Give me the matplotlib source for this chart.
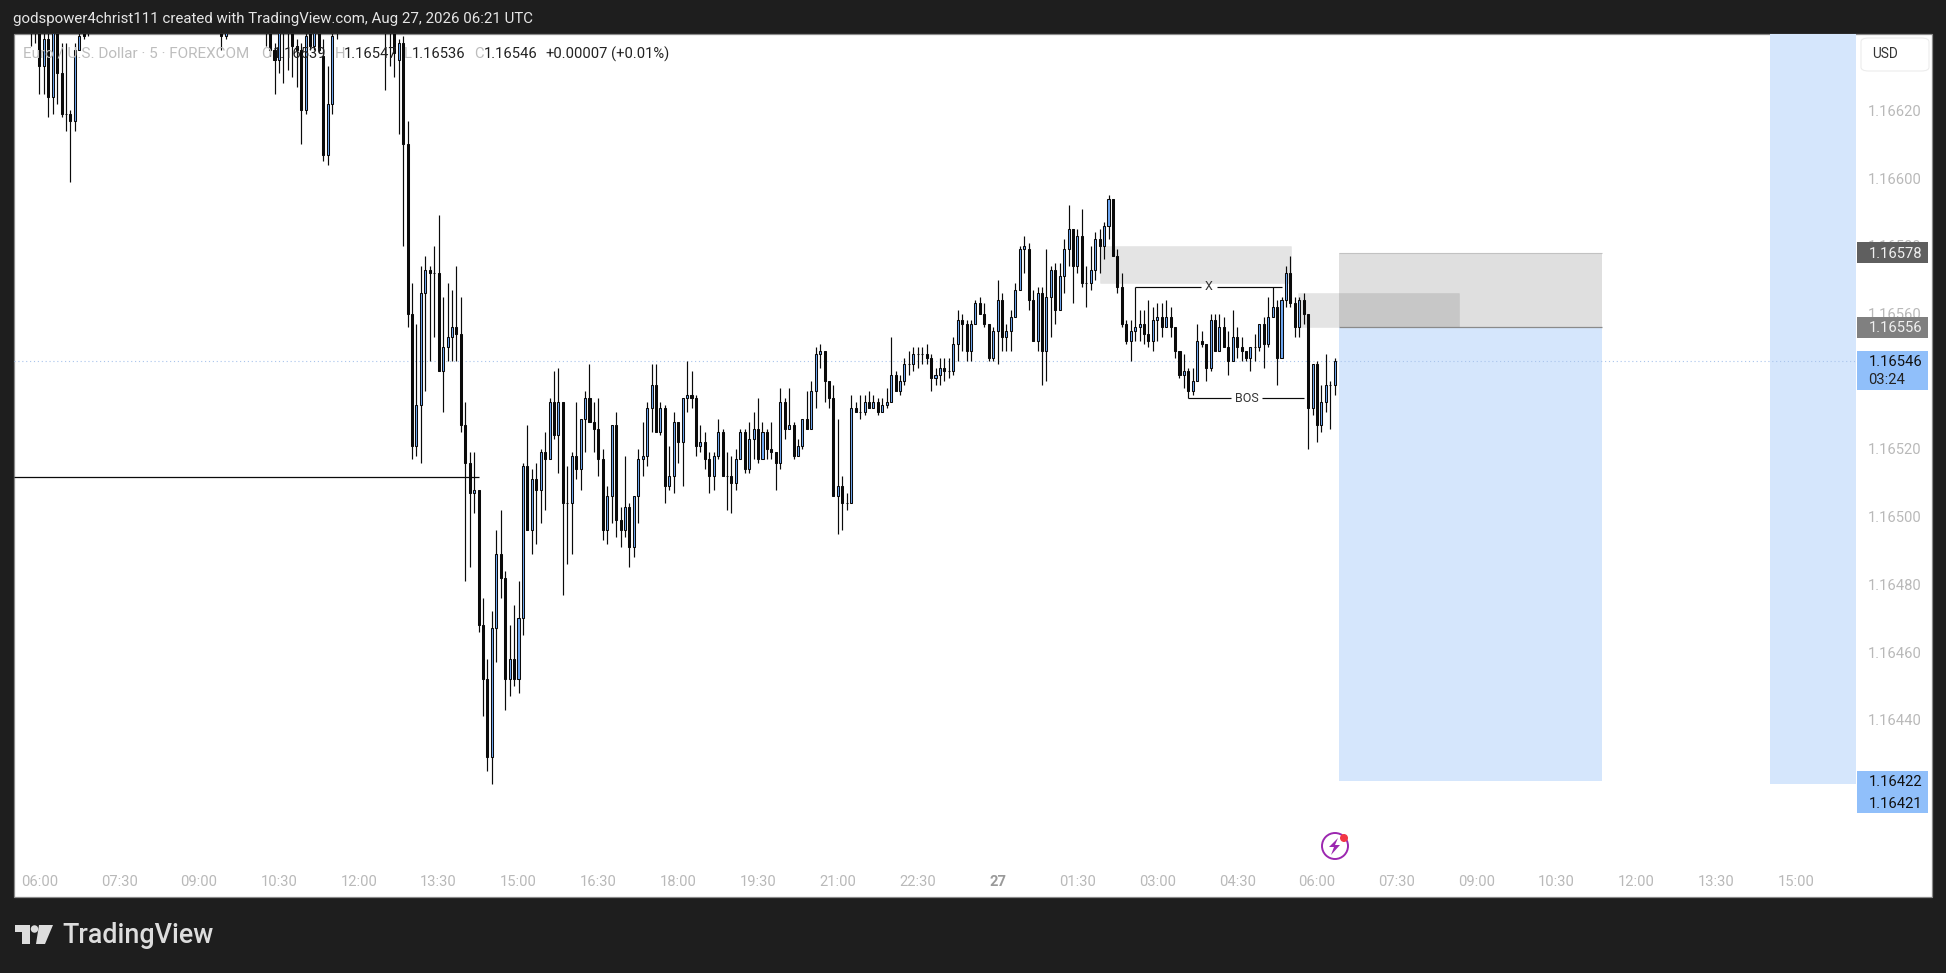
"""EUR/USD 5 min TradingView chart snapshot"""
import numpy as np
import matplotlib
matplotlib.use("Agg")
import matplotlib.pyplot as plt
from matplotlib.patches import Rectangle, Ellipse, Polygon, FancyBboxPatch

plt.rcParams["font.family"] = ["Roboto", "DejaVu Sans"]

# prices are stored as 1.16xxx -> xxxxx int (1.16546 -> 16546), None = bar above the visible area
FIRST_BAR = -2
HID_A = [None] * 29
HID_B = [None] * 8
HID_C = [None] * 10

opens = [
    16650, 16648, 16645, 16633, 16641, 16624, 16646, 16631, 16619, 16619, 16617, 16638, 16643, 16645,
    *HID_A,
    16644, 16642,
    *HID_B,
    16645, 16648, 16638, 16635, 16647, 16646, 16645, 16639, 16638, 16620, 16645, 16639, 16646, 16636, 16607, 16622, 16644,
    *HID_C,
    16648, 16650, 16648, 16635, 16640,
    16610, 16560, 16521, 16533, 16566, 16573, 16572, 16572, 16543,
    16550, 16553, 16556, 16554, 16527, 16516, 16507, 16508, 16468, 16452,
    16429, 16467, 16489, 16482, 16452, 16458, 16452, 16470, 16515, 16496,
    16511, 16508, 16519, 16517, 16534, 16524, 16534, 16504, 16504, 16518,
    16514, 16529, 16535, 16528, 16526, 16517, 16496, 16506, 16527, 16499,
    16496, 16503, 16491, 16506, 16517, 16518, 16532, 16539, 16525, 16532,
    16509, 16512, 16528, 16522, 16535, 16536, 16535, 16521, 16522, 16517,
    16512, 16518, 16525, 16512, 16512, 16510, 16517, 16525, 16514, 16523,
    16526, 16517, 16525, 16520, 16519, 16516, 16534, 16526, 16527, 16518,
    16521, 16529, 16526, 16537, 16548, 16549, 16540, 16535, 16506, 16509,
    16504, 16504, 16532, 16531, 16531, 16534, 16532, 16534, 16531, 16533,
    16534, 16542, 16537, 16540, 16545, 16545, 16548, 16548, 16548, 16547,
    16541, 16542, 16544, 16543, 16543, 16551, 16558, 16557, 16549, 16557,
    16563, 16560, 16557, 16547, 16555, 16564, 16553, 16555, 16559, 16567,
    16579, 16579, 16564, 16552, 16566, 16549, 16565, 16573, 16561, 16571,
    16579, 16585, 16574, 16583, 16569, 16569, 16573, 16582, 16580, 16586,
    16594, 16577, 16568, 16557, 16552, 16555, 16556, 16557, 16554, 16552,
    16558, 16559, 16556, 16559, 16556, 16549, 16542, 16543, 16537, 16540,
    16552, 16551, 16544, 16558, 16549, 16556, 16550, 16546, 16553, 16550,
    16549, 16547, 16550, 16550, 16557, 16551, 16559, 16562, 16547, 16564,
    16572, 16563, 16556, 16564, 16560, 16532, 16545, 16527, 16534, 16539, 16539,
]
highs = [
    16652, 16652, 16648, 16644, 16643, 16650, 16648, 16640, 16640, 16620, 16640, 16645, 16646, 16646,
    *HID_A,
    16647, 16648,
    *HID_B,
    16648, 16650, 16640, 16648, 16650, 16650, 16648, 16641, 16640, 16645, 16647, 16646, 16648, 16641, 16633, 16645, 16647,
    *HID_C,
    16650, 16652, 16650, 16641, 16642,
    16617, 16569, 16557, 16574, 16577, 16574, 16580, 16589, 16565,
    16569, 16567, 16574, 16565, 16534, 16519, 16519, 16508, 16476, 16458,
    16472, 16496, 16502, 16484, 16468, 16474, 16481, 16516, 16527, 16514,
    16516, 16520, 16525, 16535, 16543, 16544, 16534, 16515, 16519, 16534,
    16529, 16537, 16545, 16534, 16535, 16520, 16509, 16527, 16531, 16503,
    16518, 16504, 16506, 16520, 16528, 16534, 16545, 16545, 16534, 16533,
    16521, 16531, 16528, 16535, 16546, 16543, 16536, 16527, 16525, 16519,
    16519, 16529, 16526, 16519, 16518, 16520, 16526, 16526, 16528, 16531,
    16535, 16528, 16526, 16528, 16519, 16538, 16535, 16538, 16528, 16523,
    16529, 16537, 16540, 16550, 16551, 16549, 16540, 16539, 16529, 16512,
    16507, 16536, 16534, 16536, 16536, 16537, 16536, 16535, 16535, 16538,
    16553, 16543, 16542, 16547, 16549, 16550, 16550, 16550, 16551, 16548,
    16544, 16547, 16547, 16547, 16553, 16561, 16560, 16558, 16558, 16564,
    16565, 16563, 16557, 16556, 16570, 16566, 16557, 16561, 16569, 16580,
    16583, 16581, 16567, 16568, 16568, 16579, 16574, 16575, 16575, 16582,
    16592, 16585, 16585, 16591, 16574, 16580, 16584, 16585, 16587, 16595,
    16594, 16579, 16572, 16558, 16558, 16568, 16561, 16561, 16564, 16562,
    16563, 16563, 16564, 16562, 16556, 16549, 16548, 16544, 16544, 16557,
    16555, 16551, 16560, 16560, 16560, 16559, 16555, 16561, 16556, 16553,
    16549, 16550, 16554, 16557, 16559, 16565, 16568, 16564, 16565, 16574,
    16577, 16565, 16565, 16566, 16560, 16545, 16546, 16539, 16548, 16540, 16547,
]
lows = [
    16639, 16640, 16625, 16625, 16618, 16619, 16622, 16618, 16614, 16599, 16614, 16638, 16641, 16642,
    *HID_A,
    16638, 16641,
    *HID_B,
    16639, 16636, 16625, 16631, 16628, 16632, 16630, 16627, 16610, 16619, 16638, 16638, 16637, 16605, 16604, 16619, 16641,
    *HID_C,
    16626, 16633, 16630, 16613, 16580,
    16556, 16517, 16518, 16516, 16537, 16546, 16553, 16543, 16531,
    16546, 16546, 16546, 16525, 16481, 16485, 16501, 16466, 16441, 16425,
    16421, 16457, 16476, 16443, 16447, 16450, 16448, 16465, 16496, 16489,
    16492, 16498, 16502, 16517, 16523, 16513, 16477, 16486, 16489, 16511,
    16508, 16519, 16528, 16519, 16512, 16493, 16492, 16498, 16494, 16491,
    16494, 16485, 16488, 16498, 16512, 16515, 16525, 16525, 16524, 16504,
    16508, 16507, 16516, 16509, 16531, 16532, 16518, 16519, 16514, 16507,
    16508, 16517, 16512, 16502, 16501, 16508, 16517, 16513, 16513, 16517,
    16516, 16517, 16517, 16517, 16508, 16514, 16523, 16526, 16517, 16518,
    16520, 16526, 16526, 16532, 16544, 16534, 16532, 16506, 16495, 16496,
    16502, 16504, 16531, 16529, 16530, 16532, 16532, 16530, 16531, 16532,
    16534, 16537, 16536, 16539, 16542, 16543, 16544, 16545, 16545, 16537,
    16539, 16539, 16540, 16541, 16542, 16546, 16549, 16546, 16546, 16557,
    16560, 16556, 16546, 16546, 16545, 16549, 16549, 16549, 16559, 16567,
    16572, 16561, 16552, 16549, 16539, 16540, 16553, 16557, 16561, 16566,
    16574, 16563, 16572, 16568, 16562, 16567, 16570, 16572, 16576, 16582,
    16577, 16566, 16556, 16551, 16546, 16552, 16552, 16551, 16550, 16549,
    16552, 16553, 16556, 16553, 16547, 16541, 16538, 16535, 16536, 16540,
    16550, 16540, 16543, 16549, 16549, 16550, 16542, 16546, 16547, 16546,
    16546, 16543, 16546, 16549, 16544, 16550, 16559, 16539, 16547, 16562,
    16562, 16553, 16553, 16557, 16520, 16530, 16522, 16525, 16531, 16526, 16536,
]
closes = [
    16646, 16645, 16633, 16641, 16624, 16646, 16631, 16619, 16619, 16617, 16638, 16642, 16642, 16644,
    *HID_A,
    16642, 16645,
    *HID_B,
    16643, 16638, 16635, 16645, 16644, 16644, 16639, 16638, 16620, 16642, 16639, 16644, 16638, 16607, 16622, 16642, 16645,
    *HID_C,
    16646, 16646, 16637, 16640, 16610,
    16560, 16521, 16533, 16566, 16573, 16572, 16572, 16543, 16550,
    16553, 16556, 16554, 16527, 16516, 16507, 16508, 16468, 16452, 16429,
    16467, 16489, 16482, 16452, 16458, 16452, 16470, 16515, 16496, 16511,
    16508, 16519, 16517, 16534, 16524, 16534, 16504, 16504, 16518, 16514,
    16529, 16535, 16528, 16526, 16517, 16496, 16506, 16527, 16499, 16496,
    16503, 16491, 16506, 16517, 16518, 16532, 16539, 16525, 16532, 16509,
    16512, 16528, 16522, 16535, 16536, 16535, 16521, 16522, 16517, 16512,
    16518, 16525, 16512, 16512, 16510, 16517, 16525, 16514, 16523, 16526,
    16517, 16525, 16520, 16519, 16516, 16534, 16526, 16527, 16518, 16521,
    16529, 16526, 16537, 16548, 16549, 16540, 16535, 16506, 16509, 16504,
    16504, 16532, 16531, 16531, 16534, 16532, 16534, 16531, 16533, 16534,
    16542, 16537, 16540, 16545, 16545, 16548, 16548, 16548, 16547, 16541,
    16542, 16544, 16543, 16543, 16551, 16558, 16557, 16549, 16557, 16563,
    16560, 16557, 16547, 16555, 16564, 16553, 16555, 16559, 16567, 16579,
    16580, 16564, 16552, 16566, 16549, 16565, 16573, 16561, 16571, 16579,
    16585, 16574, 16583, 16569, 16569, 16573, 16582, 16580, 16586, 16594,
    16577, 16568, 16557, 16552, 16555, 16556, 16557, 16554, 16552, 16558,
    16559, 16556, 16559, 16556, 16549, 16542, 16543, 16537, 16540, 16552,
    16551, 16544, 16558, 16549, 16556, 16550, 16546, 16553, 16550, 16549,
    16547, 16550, 16550, 16557, 16551, 16559, 16562, 16547, 16564, 16572,
    16563, 16556, 16564, 16560, 16532, 16545, 16527, 16534, 16539, 16539, 16546,
]

time_labels = ["06:00", "07:30", "09:00", "10:30", "12:00", "13:30", "15:00", "16:30", "18:00", "19:30", "21:00",
               "22:30", "27", "01:30", "03:00", "04:30", "06:00", "07:30", "09:00", "10:30", "12:00", "13:30", "15:00"]
price_ticks = [1.16620, 1.16600, 1.16580, 1.16560, 1.16520, 1.16500, 1.16480, 1.16460, 1.16440]

# zones: left bar, right bar, low price, high price
supply_zones = [(239.1, 282.1, 1.16569, 1.16580), (283.7, 320.1, 1.16556, 1.16566)]
position_span = (293.0, 352.2)
position_levels = (1.16578, 1.16556, 1.16422)
strip_span = (390.1, 409.5)
strip_low = 1.16421
last_price = 1.16546
ray_price = 1.165116
ray_end = 99.1
x_price = 1.16568
bos_price = 1.16535

W, H = 1946, 973
DARK = "#1e1e1e"
BLUE = "#6ea9f5"
TAG_BLUE = "#90bffa"
SOFT = "#b9b9b9"
LABEL_SIZE = 10.6


def fx(x):
    return x / W


def fy(y):
    return 1 - y / H


def px_rect(x0, y0, x1, y1, **kw):
    fig.add_artist(Rectangle((fx(x0), fy(y1)), (x1 - x0) / W, (y1 - y0) / H, transform=fig.transFigure, **kw))


def px_text(x, y, s, **kw):
    kw.setdefault("fontsize", LABEL_SIZE)
    kw.setdefault("va", "center")
    fig.text(fx(x), fy(y), s, **kw)


fig = plt.figure(figsize=(W / 100, H / 100), dpi=100, facecolor=DARK)
px_rect(13.5, 33.5, 1932, 897, facecolor="white", edgecolor="#8a8a8a", linewidth=0.9, zorder=-1)

ax = fig.add_axes([fx(14), fy(866), (1856 - 14) / W, (866 - 34) / H])
ax.patch.set_alpha(0)
for side in ax.spines.values():
    side.set_visible(False)
ax.set_xlim(-5.726, 409.5)
ax.set_ylim(1.163968, 1.166426)

bars = np.arange(len(opens)) + FIRST_BAR
to_price = lambda a: 1 + np.array(a, dtype=float) / 1e5
o, h, l, c = to_price(opens), to_price(highs), to_price(lows), to_price(closes)
up = c > o

for x0, x1, p0, p1 in supply_zones:
    ax.add_patch(Rectangle((x0, p0), x1 - x0, p1 - p0, facecolor=(0, 0, 0, 0.105), edgecolor=(0, 0, 0, 0.03), lw=0.8, zorder=1))
top, mid, stop = position_levels
ax.add_patch(Rectangle((position_span[0], mid), position_span[1] - position_span[0], top - mid, facecolor=(0, 0, 0, 0.125), lw=0, zorder=1))
ax.add_patch(Rectangle((position_span[0], stop), position_span[1] - position_span[0], mid - stop, facecolor="#d5e6fc", lw=0, zorder=1))
ax.hlines(top, *position_span, color="#c2c2c2", lw=0.8, zorder=1.5)
ax.hlines(mid, *position_span, color="#8a8a8a", lw=0.9, zorder=1.5)
ax.add_patch(Rectangle((strip_span[0], strip_low), strip_span[1] - strip_span[0], 1, facecolor="#d5e6fc", lw=0, zorder=1))

ax.axhline(last_price, color="#a9c4ec", lw=0.8, ls=(0, (1, 2.5)), zorder=1.8)

ax.vlines(bars, l, h, color="#0a0a0a", lw=0.85, zorder=3)
ax.bar(bars[~up], (o - c)[~up], bottom=c[~up], width=0.46, color="#0a0a0a", edgecolor="#0a0a0a", lw=0.75, zorder=4)
ax.bar(bars[up], (c - o)[up], bottom=o[up], width=0.46, color=BLUE, edgecolor="#0a0a0a", lw=0.75, zorder=4)

# drawn levels
ax.hlines([ray_price], [-5.726], [ray_end], color="#0a0a0a", lw=0.9, zorder=5)
ax.hlines([x_price, x_price], [247, 265.4], [261.8, 280], color="#0a0a0a", lw=0.85, zorder=5)
ax.text(263.6, x_price, "X", ha="center", va="center", fontsize=9, color="#333333", zorder=6)
ax.hlines([bos_price, bos_price], [259, 275.6], [268.6, 285], color="#0a0a0a", lw=0.85, zorder=5)
ax.text(272.1, bos_price, "BOS", ha="center", va="center", fontsize=9, color="#333333", zorder=6)

ax.set_xticks(np.arange(len(time_labels)) * 18)
ax.set_xticklabels(time_labels, fontsize=LABEL_SIZE, color=SOFT)
ax.tick_params(axis="x", length=0, pad=6.6)
ax.get_xticklabels()[12].set_fontweight("bold")
ax.get_xticklabels()[12].set_color("#9a9a9a")
ax.yaxis.tick_right()
ax.set_yticks(price_ticks)
ax.set_yticklabels([f"{p:.5f}" for p in price_ticks], fontsize=LABEL_SIZE, color=SOFT)
ax.tick_params(axis="y", length=0, pad=8.6)

# top and bottom bars
px_text(13, 19.5, "godspower4christ111 created with TradingView.com, Aug 27, 2026 06:21 UTC", color="#e6e6e6", fontsize=10.8)
px_text(23, 54, "Euro / U.S. Dollar · 5 · FOREXCOM", color="#bdbdbd", zorder=8, fontsize=11)
for x, s, col in [(261, "O", "#bdbdbd"), (273, "1.16539", "#222222"), (335, "H", "#bdbdbd"), (344, "1.16547", "#222222"),
                  (404, "L", "#bdbdbd"), (412, "1.16536", "#222222"), (474, "C", "#bdbdbd"), (484, "1.16546", "#222222"),
                  (545, "+0.00007", "#222222"), (611, "(+0.01%)", "#222222")]:
    px_text(x, 54, s, color=col, zorder=8)

# price tags
for y0, y1, col in [(242, 263, "#5f5f5f"), (317, 338, "#808080"), (351, 390, TAG_BLUE), (771, 792, TAG_BLUE), (792, 813, TAG_BLUE)]:
    px_rect(1857, y0, 1928, y1, facecolor=col, lw=0, zorder=4)
for y, s, col in [(253.5, "1.16578", "#f0f0f0"), (328.5, "1.16556", "#f0f0f0"), (362.5, "1.16546", "#111111"), (380.5, "03:24", "#222222"),
                  (782.5, "1.16422", "#111111"), (803.5, "1.16421", "#111111")]:
    px_text(1868.5, y, s, color=col, zorder=5)

fig.add_artist(FancyBboxPatch((fx(1861), fy(71)), 68 / W, 33 / H, boxstyle="round,pad=0,rounding_size=0.004",
                              transform=fig.transFigure, facecolor="white", edgecolor="#ececec", lw=0.8, zorder=2))
px_text(1885, 54.5, "USD", color="#333333", ha="center", zorder=5, fontsize=9.8)

# event icon
fig.add_artist(Ellipse((fx(1335), fy(846)), 26 / W, 26 / H, transform=fig.transFigure, facecolor="white", edgecolor="#9c27b0", lw=1.4, zorder=4))
bolt = np.array([(1338, 838), (1329, 847), (1334, 847), (1331, 855), (1340, 845), (1335, 845)], dtype=float)
fig.add_artist(Polygon(np.c_[bolt[:, 0] / W, 1 - bolt[:, 1] / H], transform=fig.transFigure, facecolor="#9c27b0", lw=0, zorder=5))
fig.add_artist(Ellipse((fx(1344), fy(838)), 8 / W, 8 / H, transform=fig.transFigure, facecolor="#f23645", lw=0, zorder=6))

# logo
logo = [
    [(15, 925), (30, 925), (30, 944), (22, 944), (22, 932), (15, 932)],
    [(39, 925), (53, 925), (45, 944), (36, 944)],
]
for pts in logo:
    pts = np.array(pts, dtype=float)
    fig.add_artist(Polygon(np.c_[pts[:, 0] / W, 1 - pts[:, 1] / H], transform=fig.transFigure, facecolor="#dddddd", lw=0))
fig.add_artist(Ellipse((fx(34.5), fy(929)), 7.5 / W, 7.5 / H, transform=fig.transFigure, facecolor="#dddddd", lw=0))
px_text(62, 935.5, "TradingView", color="#dddddd", fontsize=19.4, fontweight="medium")

fig.savefig("out.png", dpi=100, facecolor=fig.get_facecolor())
plt.close()
